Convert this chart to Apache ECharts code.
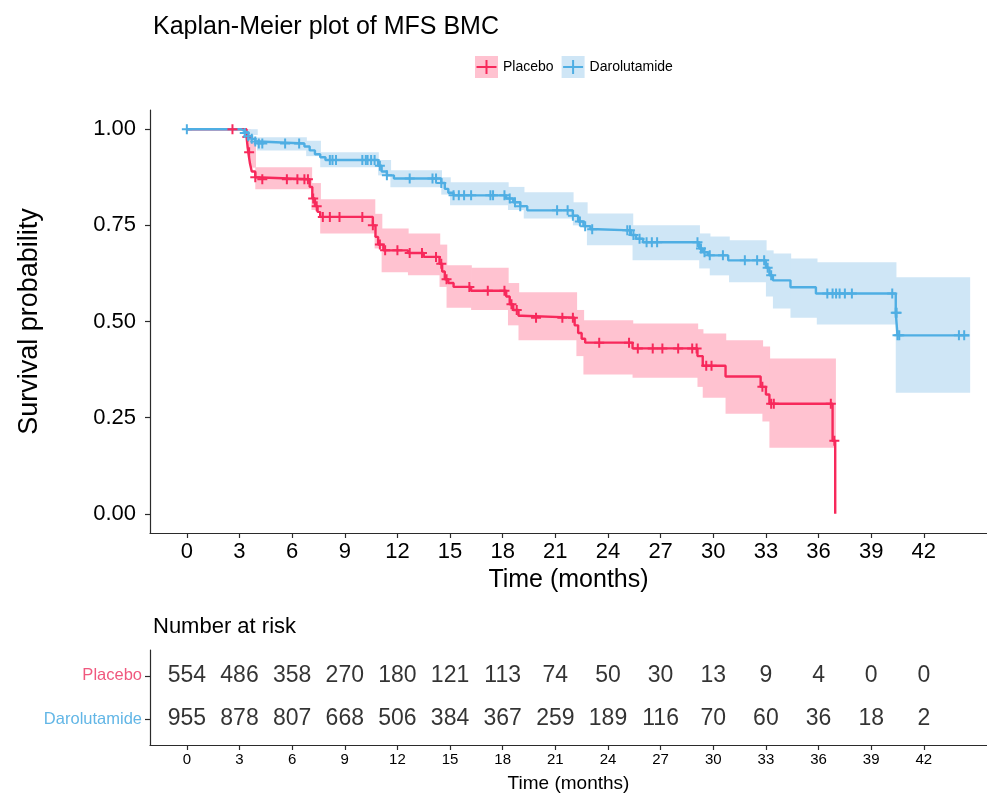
<!DOCTYPE html>
<html>
<head>
<meta charset="utf-8">
<script src="https://cdn.jsdelivr.net/npm/echarts@6/dist/echarts.min.js"></script>
<style>
  html, body { margin: 0; padding: 0; background: #ffffff; }
  #chart { width: 987px; height: 798px; }
</style>
</head>
<body>
<div id="chart"></div>
<script>
// ---- data -------------------------------------------------------------
const groups = ['Placebo', 'Darolutamide'];
const timeTicks = [0, 3, 6, 9, 12, 15, 18, 21, 24, 27, 30, 33, 36, 39, 42];
const survTicks = [0, 0.25, 0.5, 0.75, 1];

// Kaplan-Meier step function, Placebo (time in months, survival after the event)
const placeboTime = [0, 3.4, 3.5, 3.6, 3.7, 3.9, 4.0, 7.0, 7.15, 7.3, 7.45, 7.6,
  10.6, 10.75, 10.9, 11.2, 12.6, 13.5, 14.4, 14.55, 14.7, 14.9, 15.2, 16.2,
  18.2, 18.4, 18.6, 18.9, 19.1, 22.1, 22.3, 22.5, 22.7, 25.4, 29.1, 29.4,
  30.7, 32.7, 33.0, 33.2, 36.8, 36.95];
const placeboSurv = [1, 0.98, 0.94, 0.91, 0.89, 0.875, 0.870, 0.85, 0.82, 0.80, 0.785, 0.772,
  0.75, 0.72, 0.70, 0.685, 0.678, 0.668, 0.65, 0.63, 0.61, 0.60, 0.59, 0.58,
  0.565, 0.545, 0.53, 0.515, 0.51, 0.49, 0.47, 0.455, 0.445, 0.43, 0.41, 0.385,
  0.357, 0.33, 0.31, 0.286, 0.19, 0];
const placeboLastTime = 36.95;
const placeboCensor = [2.6, 3.45, 3.55, 3.9, 4.3, 5.7, 6.3, 6.7, 6.9, 7.2, 7.4,
  7.75, 8.15, 8.7, 10.0, 10.6, 11.0, 11.3, 12.0, 12.7, 13.4, 14.2, 14.5, 14.8,
  16.1, 17.15, 18.1, 18.5, 18.8, 19.9, 21.4, 22.0, 23.5, 25.2, 25.7, 26.55,
  27.1, 28.0, 28.8, 29.05, 29.6, 29.9, 32.8, 33.3, 33.45, 36.7, 36.9];
// 95% confidence band, Placebo (band breakpoints, lower and upper limits)
const placeboBandTime = [3.4, 3.6, 3.9, 7.1, 7.6, 10.7, 11.1, 12.6, 14.4, 14.8, 16.2,
  18.3, 18.9, 22.2, 22.6, 25.4, 29.1, 29.4, 30.7, 32.8, 33.2];
const placeboBandLower = [0.95, 0.90, 0.844, 0.79, 0.729, 0.69, 0.628, 0.62, 0.59, 0.536, 0.53,
  0.49, 0.451, 0.41, 0.362, 0.354, 0.33, 0.302, 0.26, 0.24, 0.172];
const placeboBandUpper = [1.0, 0.97, 0.901, 0.86, 0.818, 0.78, 0.742, 0.729, 0.70, 0.646, 0.64,
  0.60, 0.576, 0.53, 0.503, 0.495, 0.48, 0.469, 0.451, 0.435, 0.404];

// Kaplan-Meier step function, Darolutamide
const daroTime = [0, 3.1, 3.3, 3.5, 3.7, 3.9, 4.1, 6.7, 7.0, 7.3, 7.6, 7.9,
  10.9, 11.1, 11.4, 11.8, 14.5, 14.7, 14.9, 15.2, 18.2, 18.6, 19.0, 19.4,
  22.0, 22.3, 22.6, 23.0, 23.4, 25.3, 25.6, 26.0, 29.2, 29.4, 29.7, 30.85,
  33.0, 33.2, 33.4, 34.4, 35.85, 40.4, 40.5];
const daroSurv = [1, 0.995, 0.99, 0.982, 0.975, 0.968, 0.963, 0.955, 0.945, 0.935, 0.927, 0.92,
  0.905, 0.89, 0.88, 0.872, 0.86, 0.845, 0.835, 0.828, 0.82, 0.81, 0.80, 0.789,
  0.775, 0.76, 0.748, 0.74, 0.737, 0.725, 0.715, 0.706, 0.69, 0.68, 0.672, 0.659,
  0.64, 0.62, 0.607, 0.589, 0.573, 0.523, 0.464];
const daroLastTime = 44.6;
const daroCensor = [0, 3.3, 3.5, 3.7, 3.9, 4.1, 4.3, 5.6, 6.4, 8.15, 8.3, 8.5,
  10.0, 10.2, 10.3, 10.5, 10.7, 11.0, 11.4, 12.7, 14.0, 14.2, 14.5, 15.2, 15.5,
  15.8, 16.2, 17.3, 17.45, 18.1, 18.4, 18.7, 19.0, 21.1, 21.7, 22.0, 22.4, 22.7,
  23.1, 25.1, 25.25, 25.45, 25.8, 26.2, 26.5, 26.8, 29.1, 29.3, 29.5, 29.8,
  30.55, 31.8, 32.5, 32.9, 33.1, 33.3, 36.5, 36.8, 37.0, 37.2, 37.5, 37.9,
  40.2, 40.4, 40.45, 40.5, 40.6, 44.0, 44.3];
const daroBandTime = [3.3, 4.0, 6.8, 7.6, 10.9, 11.6, 14.5, 15.0, 18.3, 19.2, 22.0,
  22.8, 25.4, 29.2, 29.8, 30.9, 33.0, 33.4, 34.4, 35.9, 40.4];
const daroBandLower = [0.985, 0.945, 0.93, 0.901, 0.88, 0.849, 0.83, 0.802, 0.79, 0.768, 0.75,
  0.698, 0.659, 0.638, 0.62, 0.602, 0.565, 0.534, 0.51, 0.492, 0.315];
const daroBandUpper = [1.0, 0.979, 0.97, 0.940, 0.92, 0.893, 0.875, 0.862, 0.85, 0.836, 0.81,
  0.781, 0.75, 0.729, 0.721, 0.711, 0.685, 0.677, 0.664, 0.654, 0.615];

// Number at risk at each time tick
const riskPlacebo = [554, 486, 358, 270, 180, 121, 113, 74, 50, 30, 13, 9, 4, 0, 0];
const riskDaro = [955, 878, 807, 668, 506, 384, 367, 259, 189, 116, 70, 60, 36, 18, 2];

// ---- styles -----------------------------------------------------------
const FONT = 'Liberation Sans, Arial, Helvetica, sans-serif';
const RED = '#F7295B';
const RED_BAND = '#FFC2D0';
const RED_LABEL = '#F0587E';
const BLUE = '#4FAEE3';
const BLUE_BAND = '#CFE6F6';
const BLUE_LABEL = '#62B6E6';
const AXIS = '#2b2b2b';
const PLUS = 'path://M4,0h2v4h4v2h-4v4h-2v-4h-4v-2h4z';
const PLUS_LEGEND = 'path://M0,6h9v-6h2v6h9v2h-9v6h-2v-6h-9z';
const X_MIN = -2.1, X_MAX = 45.6;

// ---- helpers ----------------------------------------------------------
function stepLine(times, surv, lastTime) {
  const pts = times.map((t, i) => [t, surv[i]]);
  if (lastTime > times[times.length - 1]) pts.push([lastTime, surv[surv.length - 1]]);
  return pts;
}
function survAt(times, surv, t) {
  let s = surv[0];
  for (let i = 0; i < times.length; i++) { if (times[i] <= t) s = surv[i]; else break; }
  return s;
}
function bandSegments(times, lower, upper, endTime) {
  return times.map((t, i) => [t, i + 1 < times.length ? times[i + 1] : endTime, lower[i], upper[i]]);
}
function bandSeries(name, data, fill) {
  return {
    type: 'custom', name: name, xAxisIndex: 0, yAxisIndex: 0, z: 1,
    encode: { x: [0, 1], y: [2, 3] }, clip: true, silent: true,
    data: data,
    renderItem: function (params, api) {
      const a = api.coord([api.value(0), api.value(3)]);
      const b = api.coord([api.value(1), api.value(2)]);
      return { type: 'rect', shape: { x: a[0], y: a[1], width: b[0] - a[0] + 0.7, height: b[1] - a[1] },
               style: { fill: fill } };
    }
  };
}
function censorSeries(name, times, stepT, stepS, color) {
  return {
    type: 'scatter', name: name, xAxisIndex: 0, yAxisIndex: 0, z: 4, silent: true,
    symbol: PLUS, symbolSize: 10, itemStyle: { color: color, opacity: 1 },
    data: times.map(t => [t, survAt(stepT, stepS, t)])
  };
}
function riskSeries(name, row, counts) {
  return {
    type: 'scatter', name: name + ' at risk', xAxisIndex: 1, yAxisIndex: 1, silent: true, z: 5,
    symbol: 'circle', symbolSize: 2, itemStyle: { color: 'rgba(0,0,0,0)' },
    label: { show: true, position: 'inside', formatter: p => String(p.value[2]),
             fontFamily: FONT, fontSize: 23, color: '#000' },
    data: timeTicks.map((t, i) => [t, row, counts[i]])
  };
}

const chart = echarts.init(document.getElementById('chart'), null, { renderer: 'canvas' });

const axisCommon = {
  axisLine: { show: true, onZero: false, lineStyle: { color: AXIS, width: 1.2 } },
  axisTick: { show: true, length: 5, lineStyle: { color: AXIS, width: 1.2 } },
  splitLine: { show: false }
};

chart.setOption({
  animation: false,
  backgroundColor: '#ffffff',
  textStyle: { fontFamily: FONT },
  title: [
    { text: 'Kaplan-Meier plot of MFS BMC', left: 148, top: 10,
      textStyle: { fontFamily: FONT, fontSize: 25, fontWeight: 'normal', color: '#000' } },
    { text: 'Number at risk', left: 148, top: 611,
      textStyle: { fontFamily: FONT, fontSize: 22, fontWeight: 'normal', color: '#000' } }
  ],
  legend: [
    { left: 475, top: 56, padding: 0, itemWidth: 23, itemHeight: 22, itemGap: 8, selectedMode: false,
      textStyle: { fontFamily: FONT, fontSize: 14, color: '#000', lineHeight: 22 },
      data: [
        { name: groups[0], icon: 'rect', itemStyle: { color: RED_BAND } },
        { name: groups[1], icon: 'rect', itemStyle: { color: BLUE_BAND } }
      ] },
    { left: 476.5, top: 60, padding: 0, itemWidth: 20, itemHeight: 14, itemGap: 11, selectedMode: false,
      textStyle: { fontFamily: FONT, fontSize: 14, color: 'rgba(0,0,0,0)', lineHeight: 14 },
      data: [
        { name: groups[0], icon: PLUS_LEGEND, itemStyle: { color: RED } },
        { name: groups[1], icon: PLUS_LEGEND, itemStyle: { color: BLUE } }
      ] }
  ],
  grid: [
    { left: 150, right: 0, top: 110, height: 423 },
    { left: 150, right: 0, top: 650, height: 95 }
  ],
  xAxis: [
    Object.assign({}, axisCommon, {
      type: 'value', gridIndex: 0, min: X_MIN, max: X_MAX,
      name: 'Time (months)', nameLocation: 'middle', nameGap: 34,
      nameTextStyle: { fontFamily: FONT, fontSize: 25, color: '#000' },
      axisTick: Object.assign({}, axisCommon.axisTick, { customValues: timeTicks }),
      axisLabel: { customValues: timeTicks, fontFamily: FONT, fontSize: 22, color: '#000', margin: 8 }
    }),
    Object.assign({}, axisCommon, {
      type: 'value', gridIndex: 1, min: X_MIN, max: X_MAX,
      name: 'Time (months)', nameLocation: 'middle', nameGap: 29,
      nameTextStyle: { fontFamily: FONT, fontSize: 19, color: '#000' },
      axisTick: Object.assign({}, axisCommon.axisTick, { customValues: timeTicks }),
      axisLabel: { customValues: timeTicks, fontFamily: FONT, fontSize: 15, color: '#000', margin: 7 }
    })
  ],
  yAxis: [
    Object.assign({}, axisCommon, {
      type: 'value', gridIndex: 0, min: -0.05, max: 1.05,
      name: 'Survival probability', nameLocation: 'middle', nameGap: 107, nameRotate: 90,
      nameTextStyle: { fontFamily: FONT, fontSize: 27, color: '#000' },
      axisTick: Object.assign({}, axisCommon.axisTick, { customValues: survTicks }),
      axisLabel: { customValues: survTicks, formatter: v => v.toFixed(2),
                   fontFamily: FONT, fontSize: 22, color: '#000', margin: 14 }
    }),
    Object.assign({}, axisCommon, {
      type: 'value', gridIndex: 1, min: 0.4, max: 2.6, inverse: true,
      axisTick: Object.assign({}, axisCommon.axisTick, { customValues: [1, 2] }),
      axisLabel: { customValues: [1, 2], formatter: v => groups[Math.round(v) - 1],
                   color: (v) => (Math.round(v) === 1 ? RED_LABEL : BLUE_LABEL),
                   fontFamily: FONT, fontSize: 16.5, margin: 8 }
    })
  ],
  series: [
    bandSeries(groups[0], bandSegments(placeboBandTime, placeboBandLower, placeboBandUpper, placeboLastTime), RED_BAND),
    bandSeries(groups[1], bandSegments(daroBandTime, daroBandLower, daroBandUpper, daroLastTime), BLUE_BAND),
    { type: 'line', name: groups[0], xAxisIndex: 0, yAxisIndex: 0, step: 'end', z: 3, silent: true,
      showSymbol: false, symbol: 'none', lineStyle: { color: RED, width: 2.4 },
      data: stepLine(placeboTime, placeboSurv, placeboLastTime) },
    { type: 'line', name: groups[1], xAxisIndex: 0, yAxisIndex: 0, step: 'end', z: 3, silent: true,
      showSymbol: false, symbol: 'none', lineStyle: { color: BLUE, width: 2.4 },
      data: stepLine(daroTime, daroSurv, daroLastTime) },
    censorSeries(groups[0], placeboCensor, placeboTime, placeboSurv, RED),
    censorSeries(groups[1], daroCensor, daroTime, daroSurv, BLUE),
    riskSeries(groups[0], 1, riskPlacebo),
    riskSeries(groups[1], 2, riskDaro)
  ]
});
</script>
</body>
</html>
